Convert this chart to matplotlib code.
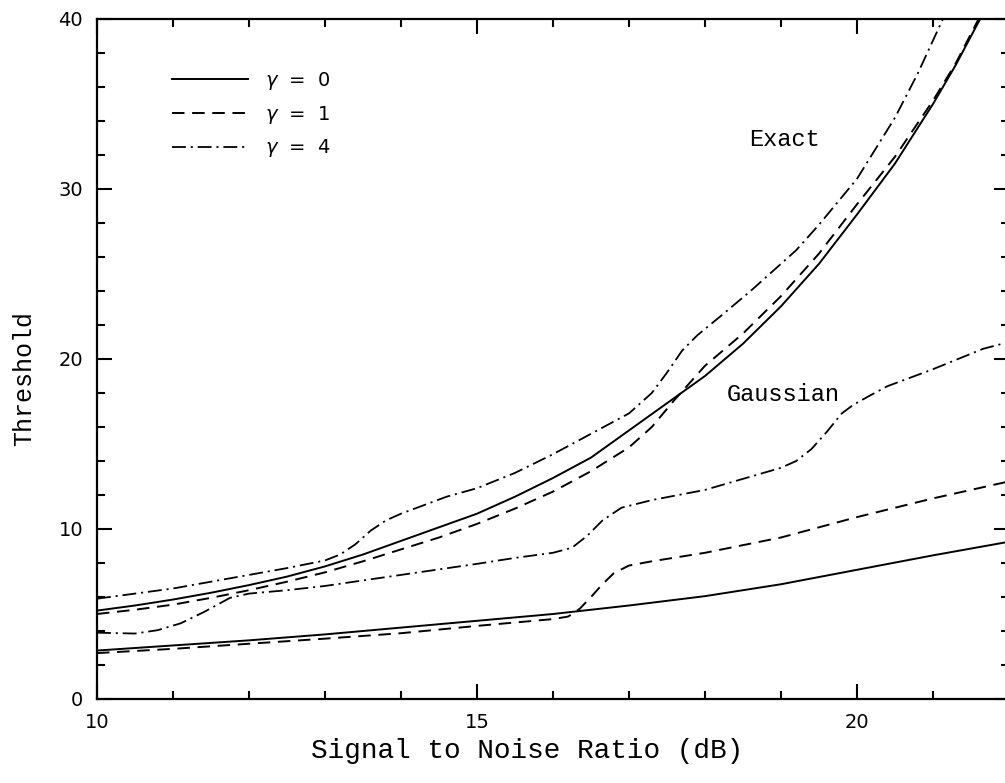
import numpy as np
import matplotlib
matplotlib.use("Agg")
import matplotlib.pyplot as plt

plt.rcParams['lines.scale_dashes'] = False

# Exact threshold curves
exact_x0 = [10, 10.5, 11, 11.5, 12, 12.5, 13, 13.5, 14, 14.5, 15, 15.5, 16, 16.5, 17,
            17.5, 18, 18.5, 19, 19.5, 20, 20.5, 21, 21.3, 21.62]
exact_y0 = [5.2, 5.5, 5.85, 6.25, 6.7, 7.2, 7.8, 8.5, 9.3, 10.1, 10.9, 11.9, 13.0, 14.2, 15.8,
            17.4, 19.0, 20.9, 23.1, 25.6, 28.5, 31.5, 35.0, 37.3, 40.0]

exact_x1 = [10, 10.5, 11, 11.5, 12, 12.5, 13, 13.5, 14, 14.5, 15, 15.5, 16, 16.5, 17, 17.3,
            17.6, 18, 18.5, 19, 19.5, 20, 20.5, 21, 21.3, 21.6]
exact_y1 = [5.0, 5.25, 5.55, 5.95, 6.4, 6.9, 7.45, 8.1, 8.8, 9.5, 10.3, 11.2, 12.2, 13.4, 14.8, 16.0,
            17.6, 19.6, 21.5, 23.7, 26.2, 29.1, 31.9, 35.2, 37.4, 40.0]

exact_x4 = [10, 10.5, 11, 11.5, 12, 12.5, 13, 13.2, 13.4, 13.6, 13.8, 14.0, 14.3, 14.6, 15, 15.5,
            16, 16.5, 17, 17.3, 17.5, 17.7, 17.9, 18.2, 18.6, 19.2, 19.5, 20, 20.5, 20.8, 21.13]
exact_y4 = [5.9, 6.2, 6.5, 6.9, 7.3, 7.7, 8.15, 8.5, 9.1, 9.9, 10.5, 10.9, 11.4, 11.9, 12.4, 13.3,
            14.4, 15.6, 16.8, 18.0, 19.2, 20.5, 21.4, 22.5, 24.0, 26.4, 27.9, 30.6, 34.2, 36.8, 40.0]

# Gaussian approximation curves
gauss_x0 = [10, 11, 12, 13, 14, 15, 16, 17, 18, 19, 20, 21, 22]
gauss_y0 = [2.85, 3.15, 3.45, 3.8, 4.2, 4.6, 5.0, 5.5, 6.05, 6.75, 7.6, 8.45, 9.25]

gauss_x1 = [10, 11, 12, 13, 14, 15, 15.5, 16, 16.2, 16.35, 16.5, 16.65, 16.8, 17.0, 17.3,
            18, 19, 20, 21, 22]
gauss_y1 = [2.7, 2.95, 3.25, 3.55, 3.87, 4.3, 4.5, 4.7, 4.85, 5.3, 6.0, 6.75, 7.4, 7.85, 8.1,
            8.6, 9.5, 10.7, 11.8, 12.8]

gauss_x4 = [10, 10.5, 10.8, 11.1, 11.4, 11.75, 12.0, 12.5, 13, 14, 15, 15.5, 16.0, 16.25, 16.45,
            16.65, 16.9, 17.3, 18, 19, 19.2, 19.4, 19.6, 19.8, 19.95, 20.15, 20.4, 21.0, 21.66, 22]
gauss_y4 = [3.9, 3.85, 4.05, 4.45, 5.1, 5.95, 6.2, 6.4, 6.65, 7.3, 7.95, 8.3, 8.6, 8.9, 9.6,
            10.5, 11.25, 11.7, 12.3, 13.6, 14.0, 14.7, 15.7, 16.8, 17.3, 17.8, 18.4, 19.4, 20.6, 21.0]

gamma_labels = [r'$\gamma$  =  0', r'$\gamma$  =  1', r'$\gamma$  =  4']

solid = dict(color='black', lw=1.4, linestyle='-')
dashed = dict(color='black', lw=1.4, dashes=(9, 5.5))
dashdot = dict(color='black', lw=1.3, dashes=(10, 3.5, 1.5, 3.5))

fig = plt.figure(figsize=(10.05, 7.83), dpi=100)
ax = fig.add_axes([97 / 1005, 84 / 783, 912 / 1005, 680 / 783])

l0, = ax.plot(exact_x0, exact_y0, **solid)
l1, = ax.plot(exact_x1, exact_y1, **dashed)
l4, = ax.plot(exact_x4, exact_y4, **dashdot)
ax.plot(gauss_x0, gauss_y0, **solid)
ax.plot(gauss_x1, gauss_y1, **dashed)
ax.plot(gauss_x4, gauss_y4, **dashdot)

ax.set_xlim(10, 22)
ax.set_ylim(0, 40)
ax.set_xticks([10, 15, 20])
ax.set_xticks(np.arange(10, 23, 1), minor=True)
ax.set_yticks([0, 10, 20, 30, 40])
ax.set_yticks(np.arange(0, 41, 2), minor=True)

for s in ax.spines.values():
    s.set_linewidth(1.6)
ax.tick_params(which='both', direction='in', top=True, right=True, width=1.5,
               labelsize=14)
ax.tick_params(which='major', length=11, pad=10)
ax.tick_params(which='minor', length=6)
for lab in ax.get_xticklabels() + ax.get_yticklabels():
    lab.set_fontfamily('DejaVu Sans')

mono = 'Liberation Mono'
ax.set_xlabel('Signal to Noise Ratio (dB)', fontsize=20, fontfamily=mono)
ax.set_ylabel('Threshold', fontsize=18, fontfamily=mono)
ax.xaxis.set_label_coords(0.4715, -0.058)
ax.yaxis.set_label_coords(-0.067, 0.472)

ax.text(19.05, 32.9, 'Exact', fontsize=17, fontfamily=mono, ha='center', va='center')
ax.text(19.03, 17.9, 'Gaussian', fontsize=17, fontfamily=mono, ha='center', va='center')

ax.legend([l0, l1, l4], gamma_labels, loc='upper left', bbox_to_anchor=(0.082, 0.925),
          frameon=False, fontsize=14, handlelength=3.9, handletextpad=0.9,
          labelspacing=0.6, borderpad=0, borderaxespad=0)

fig.savefig('out.png', dpi=100)
